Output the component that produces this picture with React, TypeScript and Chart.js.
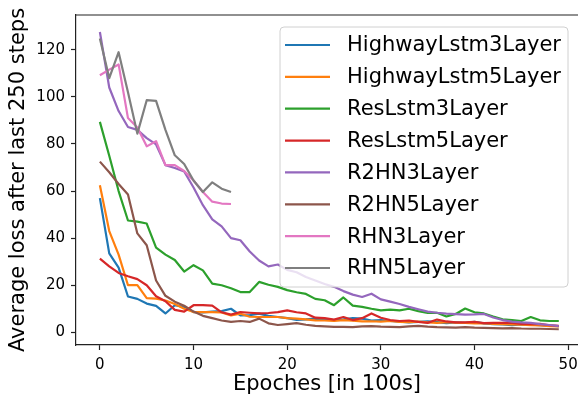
import React, { useEffect, useRef } from 'react';
import { Chart, registerables } from 'chart.js';

Chart.register(...registerables);

const epochs = [
  0, 1, 2, 3, 4, 5, 6, 7, 8, 9, 10, 11, 12, 13, 14, 15, 16, 17, 18, 19, 20, 21, 22, 23, 24,
  25, 26, 27, 28, 29, 30, 31, 32, 33, 34, 35, 36, 37, 38, 39, 40, 41, 42, 43, 44, 45, 46, 47, 48, 49,
];

const seriesNames = [
  'HighwayLstm3Layer',
  'HighwayLstm5Layer',
  'ResLstm3Layer',
  'ResLstm5Layer',
  'R2HN3Layer',
  'R2HN5Layer',
  'RHN3Layer',
  'RHN5Layer',
];

const highwayLstm3 = [
  57, 33.5, 27.5, 15.2, 14.2, 12.2, 11.2, 8, 11.5, 10.8, 8.6, 8.5, 8.8, 9, 10, 7.2, 7.3, 7.9, 7, 6.5,
  6, 5.3, 5.5, 5.8, 5.5, 5.2, 5.5, 6.0, 5.8, 5.0, 5.2, 4.8, 4.5, 4.2, 4.4, 4.6, 4.3, 3.9, 4.2, 4.0,
  4.4, 3.8, 3.5, 3.3, 3.0, 3.4, 3.2, 3.0, 2.8, 2.6,
];
const highwayLstm5 = [
  62.5, 43, 33, 20, 20, 14.5, 14.3, 13.5, 12, 10, 8.6, 8.6, 8.6, 8.4, 7.2, 7.9, 6.6, 6.5, 6.5, 6.5,
  6, 5.8, 5.5, 5.1, 5.0, 4.8, 5.2, 4.9, 4.6, 4.7, 4.5, 4.8, 4.4, 4.3, 4.5, 4.2, 4.0, 4.3, 4.1, 4.0,
  3.8, 3.9, 3.6, 3.5, 3.4, 3.2, 3.0, 2.9, 2.6, 2.5,
];
const resLstm3 = [
  89.4, 75, 60, 47.5, 47, 46.2, 36, 33, 30.7, 25.8, 28.5, 26.3, 20.7, 20, 18.7, 17.1, 17.1, 21.4, 20.2, 19.3,
  17.9, 17, 16.3, 14.2, 13.6, 11.5, 14.8, 11.3, 10.8, 10, 9.3, 9.6, 9.3, 10, 9, 8.2, 8.3, 6.7, 7.8, 10.1,
  8.5, 8, 6.7, 5.5, 5.2, 4.8, 6.5, 5.1, 4.8, 4.8,
];
const resLstm5 = [
  31.3, 28, 25.2, 23.8, 22.6, 20, 15.3, 13.2, 9.5, 8.8, 11.5, 11.5, 11.3, 8.5, 7.5, 8.6, 8.3, 8, 8.2, 8.6,
  9.3, 8.5, 8, 6.2, 6, 5.4, 6.5, 5.2, 6, 8, 6.2, 5.2, 4.8, 5, 4.4, 4.0, 5.4, 4.6, 4.2, 4.2,
  4.4, 3.9, 4.0, 4.0, 4.0, 3.6, 3.5, 3.6, 3.0, 2.7,
];
const r2hn3 = [
  127.6, 104, 94, 87.2, 86, 82.5, 79.8, 71, 69.8, 68.3, 61.5, 54, 48, 45, 40, 39.1, 34.3, 30.5, 28, 28.8,
  26.5, 25.5, 23.5, 22, 20.5, 19.3, 17.5, 16, 15, 16.4, 14, 13, 12, 10.8, 9.8, 8.8, 8.3, 7.9, 7.7, 7.5,
  7.6, 7.8, 6.3, 5.2, 4.5, 4.2, 4.0, 3.5, 3.1, 2.6,
];
const r2hn5 = [
  72.5, 68, 63, 58.5, 42, 37, 22, 15.5, 13, 11.3, 8.8, 7, 6, 5, 4.4, 4.8, 4.4, 5.8, 3.8, 3.1,
  3.5, 3.9, 3.2, 2.7, 2.5, 2.3, 2.3, 2.2, 2.5, 2.6, 2.4, 2.3, 2.2, 2.5, 2.7, 2.4, 2.2, 2.1, 2.0, 2.2,
  2.0, 1.9, 1.8, 1.7, 1.8, 1.6, 1.5, 1.5, 1.4, 1.3,
];
const rhn3 = [109.2, 111.6, 113.8, 91, 87, 79, 81.2, 71, 71, 68.5, 64.5, 59.6, 55.5, 54.7, 54.5];
const rhn5 = [124.8, 108, 119, 102, 84.4, 98.6, 98.3, 86, 75.2, 71.5, 64.5, 59.6, 63.7, 61, 59.6];

const xTicks = [0, 10, 20, 30, 40, 50];
const yTicks = [0, 20, 40, 60, 80, 100, 120];

const colors = ['#1f77b4', '#ff7f0e', '#2ca02c', '#d62728', '#9467bd', '#8c564b', '#e377c2', '#7f7f7f'];

const FONT = "'DejaVu Sans', 'Liberation Sans', sans-serif";
const AXIS_COLOR = '#222';

const framePlugin = {
  id: 'frame',
  afterDraw(chart: any) {
    const { ctx, chartArea } = chart;
    ctx.save();
    ctx.strokeStyle = AXIS_COLOR;
    ctx.lineWidth = 1.2;
    ctx.beginPath();
    ctx.moveTo(chartArea.left, chartArea.top);
    ctx.lineTo(chart.width, chartArea.top);
    ctx.stroke();
    ctx.restore();
  },
};

const legendPlugin = {
  id: 'boxLegend',
  afterDraw(chart: any) {
    const { ctx, chartArea } = chart;
    const w = 288;
    const h = 260;
    const x = chartArea.left + 204;
    const y = chartArea.top + 12;
    const r = 4;
    ctx.save();
    ctx.beginPath();
    ctx.moveTo(x + r, y);
    ctx.lineTo(x + w - r, y);
    ctx.quadraticCurveTo(x + w, y, x + w, y + r);
    ctx.lineTo(x + w, y + h - r);
    ctx.quadraticCurveTo(x + w, y + h, x + w - r, y + h);
    ctx.lineTo(x + r, y + h);
    ctx.quadraticCurveTo(x, y + h, x, y + h - r);
    ctx.lineTo(x, y + r);
    ctx.quadraticCurveTo(x, y, x + r, y);
    ctx.closePath();
    ctx.fillStyle = 'rgba(255,255,255,0.8)';
    ctx.fill();
    ctx.strokeStyle = '#d0d0d0';
    ctx.lineWidth = 1;
    ctx.stroke();

    const datasets = chart.data.datasets;
    ctx.font = `21px ${FONT}`;
    ctx.textBaseline = 'middle';
    ctx.textAlign = 'left';
    datasets.forEach((ds: any, i: number) => {
      const cy = y + 18 + i * 31.86;
      ctx.strokeStyle = ds.borderColor;
      ctx.lineWidth = 2.2;
      ctx.beginPath();
      ctx.moveTo(x + 5, cy);
      ctx.lineTo(x + 50, cy);
      ctx.stroke();
      ctx.fillStyle = '#000';
      ctx.fillText(ds.label, x + 67, cy + 1);
    });
    ctx.restore();
  },
};

export default function App() {
  const ref = useRef<HTMLCanvasElement>(null);

  useEffect(() => {
    const series = [highwayLstm3, highwayLstm5, resLstm3, resLstm5, r2hn3, r2hn5, rhn3, rhn5];
    const datasets = series.map((vals, i) => ({
      label: seriesNames[i],
      data: vals.map((v, j) => ({ x: epochs[j], y: v })),
      borderColor: colors[i],
      backgroundColor: colors[i],
      borderWidth: 2.2,
      pointRadius: 0,
      tension: 0,
      fill: false,
      borderJoinStyle: 'round' as const,
      order: series.length - i,
    }));

    const chart = new Chart(ref.current as HTMLCanvasElement, {
      type: 'line',
      data: { datasets },
      options: {
        animation: false,
        responsive: false,
        events: [],
        layout: { padding: { left: 0, top: 15, right: -3, bottom: 0 } },
        plugins: {
          legend: { display: false },
          tooltip: { enabled: false },
        },
        scales: {
          x: {
            type: 'linear',
            min: -2.55,
            max: 51.05,
            afterBuildTicks: (s: any) => {
              s.ticks = xTicks.map((v) => ({ value: v }));
            },
            afterFit: (s: any) => {
              s.height = 52;
              s.paddingLeft = 0;
              s.paddingRight = 0;
            },
            grid: {
              display: true,
              drawOnChartArea: false,
              drawTicks: true,
              tickLength: 5,
              tickColor: AXIS_COLOR,
              tickWidth: 1.2,
            },
            border: { display: true, color: AXIS_COLOR, width: 1.2 },
            ticks: {
              color: '#000',
              font: { family: FONT, size: 15 },
              padding: 6,
              maxRotation: 0,
            },
            title: {
              display: true,
              text: 'Epoches [in 100s]',
              color: '#000',
              font: { family: FONT, size: 21 },
              padding: { top: 0, bottom: 0 },
            },
          },
          y: {
            type: 'linear',
            min: -5.4,
            max: 134.8,
            afterBuildTicks: (s: any) => {
              s.ticks = yTicks.map((v) => ({ value: v }));
            },
            afterFit: (s: any) => {
              s.width = 76;
              s.paddingTop = 0;
              s.paddingBottom = 0;
            },
            grid: {
              display: true,
              drawOnChartArea: false,
              drawTicks: true,
              tickLength: 5,
              tickColor: AXIS_COLOR,
              tickWidth: 1.2,
            },
            border: { display: true, color: AXIS_COLOR, width: 1.2 },
            ticks: {
              color: '#000',
              font: { family: FONT, size: 15 },
              padding: 6,
            },
            title: {
              display: true,
              text: 'Average loss after last 250 steps',
              color: '#000',
              font: { family: FONT, size: 21 },
              padding: { top: 6, bottom: 0 },
            },
          },
        },
      },
      plugins: [framePlugin, legendPlugin],
    });

    return () => chart.destroy();
  }, []);

  return (
    <div
      style={{
        position: 'fixed',
        left: 0,
        top: 0,
        width: 578,
        height: 397,
        overflow: 'hidden',
        background: '#fff',
      }}
    >
      <canvas ref={ref} width={578} height={397} style={{ display: 'block', width: 578, height: 397 }} />
    </div>
  );
}
